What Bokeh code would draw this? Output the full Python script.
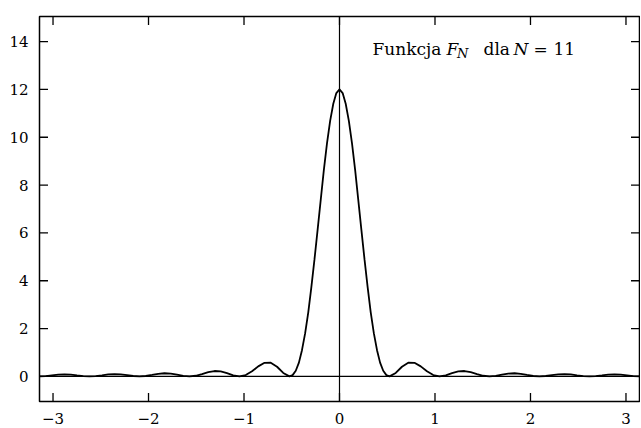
from bokeh.plotting import figure
from bokeh.models import Range1d, FixedTicker, LinearAxis, Span, Label
from bokeh.embed import file_html
from bokeh.resources import INLINE
import math

# Fejer kernel F_N, N = 11
x_vals = [-3.142, -3.076, -3.011, -2.945, -2.880, -2.814, -2.749, -2.683,
          -2.618, -2.553, -2.487, -2.422, -2.356, -2.291, -2.225, -2.160,
          -2.094, -2.029, -1.963, -1.898, -1.833, -1.767, -1.702, -1.636,
          -1.571, -1.505, -1.440, -1.374, -1.309, -1.244, -1.178, -1.113,
          -1.047, -0.982, -0.916, -0.851, -0.785, -0.720, -0.654, -0.589,
          -0.524, -0.491, -0.458, -0.425, -0.393, -0.360, -0.327, -0.295,
          -0.262, -0.229, -0.196, -0.164, -0.131, -0.098, -0.065, -0.033,
          0.0,
          0.033, 0.065, 0.098, 0.131, 0.164, 0.196, 0.229, 0.262,
          0.295, 0.327, 0.360, 0.393, 0.425, 0.458, 0.491, 0.524,
          0.589, 0.654, 0.720, 0.785, 0.851, 0.916, 0.982, 1.047,
          1.113, 1.178, 1.244, 1.309, 1.374, 1.440, 1.505, 1.571,
          1.636, 1.702, 1.767, 1.833, 1.898, 1.963, 2.029, 2.094,
          2.160, 2.225, 2.291, 2.356, 2.422, 2.487, 2.553, 2.618,
          2.683, 2.749, 2.814, 2.880, 2.945, 3.011, 3.076, 3.142]
fn_vals = [0.0, 0.012, 0.042, 0.072, 0.085, 0.073, 0.043, 0.013,
           0.0, 0.013, 0.046, 0.081, 0.098, 0.086, 0.052, 0.016,
           0.0, 0.017, 0.060, 0.108, 0.132, 0.119, 0.074, 0.023,
           0.0, 0.026, 0.096, 0.177, 0.225, 0.210, 0.135, 0.044,
           0.0, 0.055, 0.213, 0.418, 0.569, 0.573, 0.403, 0.145,
           0.0, 0.054, 0.237, 0.577, 1.095, 1.798, 2.681, 3.723,
           4.891, 6.137, 7.404, 8.627, 9.741, 10.683, 11.400, 11.847,
           12.0,
           11.847, 11.400, 10.683, 9.741, 8.627, 7.404, 6.137, 4.891,
           3.723, 2.681, 1.798, 1.095, 0.577, 0.237, 0.054, 0.0,
           0.145, 0.403, 0.573, 0.569, 0.418, 0.213, 0.055, 0.0,
           0.044, 0.135, 0.210, 0.225, 0.177, 0.096, 0.026, 0.0,
           0.023, 0.074, 0.119, 0.132, 0.108, 0.060, 0.017, 0.0,
           0.016, 0.052, 0.086, 0.098, 0.081, 0.046, 0.013, 0.0,
           0.013, 0.043, 0.073, 0.085, 0.072, 0.042, 0.012, 0.0]

x_ticks = [-3, -2, -1, 0, 1, 2, 3]
x_tick_labels = ["\u22123", "\u22122", "\u22121", "0", "1", "2", "3"]
y_ticks = [0, 2, 4, 6, 8, 10, 12, 14]

FONT = "DejaVu Serif"

xr = Range1d(-3.1416, 3.1416)
yr = Range1d(-1.05, 15.05)
p = figure(width=640, height=428, output_backend="svg", toolbar_location=None,
           x_range=xr, y_range=yr,
           x_axis_location=None, y_axis_location=None,
           min_border_left=39, min_border_right=1, min_border_top=16,
           min_border_bottom=27)
p.grid.visible = False
p.background_fill_color = "white"
p.border_fill_color = "white"
p.outline_line_color = "black"
p.outline_line_width = 1.5


def make_axis(ticks, labels=None):
    ax = LinearAxis(ticker=FixedTicker(ticks=ticks))
    ax.axis_line_color = None
    ax.major_tick_in = 0
    ax.major_tick_out = 0
    ax.major_tick_line_color = None
    ax.minor_tick_line_color = None
    if labels is not None:
        ax.major_label_overrides = {t: l for t, l in zip(ticks, labels)}
    ax.major_label_text_font = FONT
    ax.major_label_text_font_size = "15px"
    ax.major_label_text_color = "black"
    ax.major_label_standoff = 11
    return ax


p.add_layout(make_axis(x_ticks, x_tick_labels), "below")
p.add_layout(make_axis(y_ticks), "left")

# inward tick marks on all four sides (dash markers centred on the frame edge,
# clipped to the frame so only the inner half shows)
TICK = 17
p.scatter(x=x_ticks, y=[yr.start] * len(x_ticks), marker="dash", size=TICK,
          angle=math.pi / 2, line_color="black", line_width=1.3)
p.scatter(x=x_ticks, y=[yr.end] * len(x_ticks), marker="dash", size=TICK,
          angle=math.pi / 2, line_color="black", line_width=1.3)
p.scatter(x=[xr.start] * len(y_ticks), y=y_ticks, marker="dash", size=TICK,
          line_color="black", line_width=1.3)
p.scatter(x=[xr.end] * len(y_ticks), y=y_ticks, marker="dash", size=TICK,
          line_color="black", line_width=1.3)

p.add_layout(Span(location=0, dimension="height", line_color="black", line_width=1.2))
p.add_layout(Span(location=0, dimension="width", line_color="black", line_width=1.2))

p.line(x_vals, fn_vals, line_color="black", line_width=1.8)

base_y = 13.68
pieces = [
    ("Funkcja", 0.346, base_y, "normal", "17px"),
    ("F", 1.120, base_y, "italic", "17px"),
    ("N", 1.230, 13.50, "italic", "13px"),
    ("dla", 1.508, base_y, "normal", "17px"),
    ("N", 1.822, base_y, "italic", "17px"),
    ("=", 2.031, base_y, "normal", "17px"),
    ("11", 2.240, base_y, "normal", "17px"),
]
for txt, lx, ly, style, size in pieces:
    p.add_layout(Label(x=lx, y=ly, text=txt, text_font=FONT,
                       text_font_style=style, text_font_size=size,
                       text_color="black", text_baseline="alphabetic",
                       text_align="left"))

open("out.html", "w").write(file_html(p, INLINE))
